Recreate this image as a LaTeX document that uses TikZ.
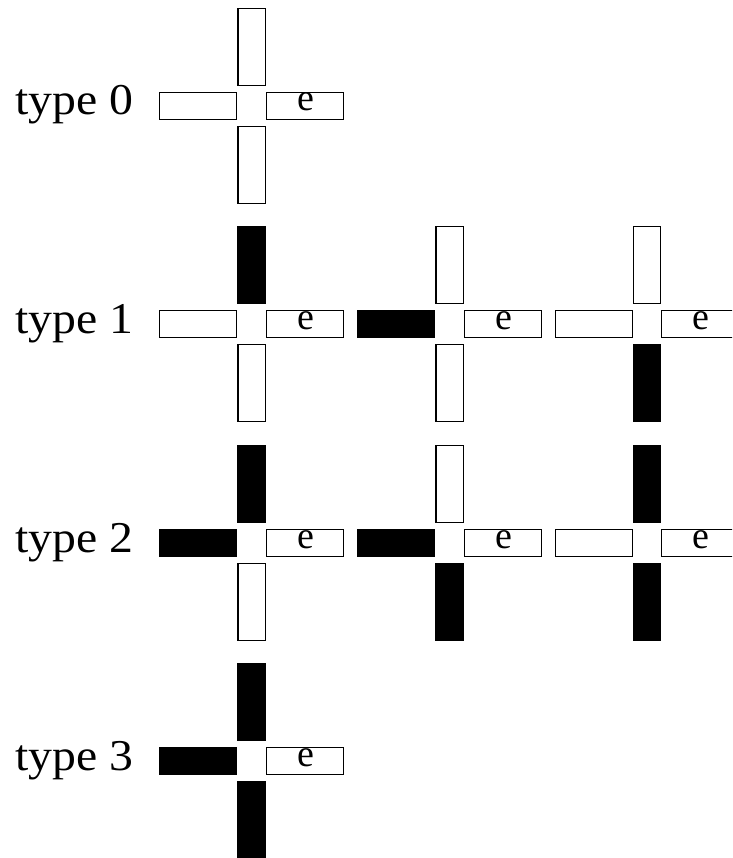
\documentclass[tikz,border=0pt]{standalone}
\usepackage{fontspec}
\setmainfont{Liberation Serif}

\begin{document}
\begin{tikzpicture}[x=1pt, y=-1pt,
    bar/.style={draw, line width=1.2pt, inner sep=0pt, outer sep=0pt},
    vbar/.style={bar, minimum width=27.2pt, minimum height=76.5pt},
    hbar/.style={bar, minimum width=77pt, minimum height=26.8pt},
    lbl/.style={anchor=base west, inner sep=0pt, font=\fontsize{44}{52}\selectfont},
    etext/.style={anchor=base, inner sep=0pt, font=\fontsize{38}{46}\selectfont}
]
    \clip (0,0) rectangle (732,858);

    % row labels
    \node[lbl] (type0) at (15,115) {\scalebox{1.085}[1]{type 0}};
    \node[lbl] (type1) at (15,333) {\scalebox{1.085}[1]{type 1}};
    \node[lbl] (type2) at (15,552) {\scalebox{1.085}[1]{type 2}};
    \node[lbl] (type3) at (15,770) {\scalebox{1.085}[1]{type 3}};

    % crosses: centre x / centre y / top / left / bottom fill
    \foreach \cx/\cy/\topfill/\leftfill/\botfill/\name in {
        251.5/106/white/white/white/z,
        251.5/324/black/white/white/oa,
        449.5/324/white/black/white/ob,
        647/324/white/white/black/oc,
        251.5/543/black/black/white/ta,
        449.5/543/white/black/black/tb,
        647/543/black/white/black/tc,
        251.5/761/black/black/black/h}
    {
        \node[vbar, fill=\topfill]  (\name-top)    at (\cx,\cy-59) {};
        \node[vbar, fill=\botfill]  (\name-bottom) at (\cx,\cy+59) {};
        \node[hbar, fill=\leftfill] (\name-left)   at (\cx-53.3,\cy) {};
        \node[hbar, fill=white]     (\name-right)  at (\cx+53.2,\cy) {};
        \node[etext] (\name-e) at (\cx+54,\cy+5) {e};
    }
\end{tikzpicture}
\end{document}
